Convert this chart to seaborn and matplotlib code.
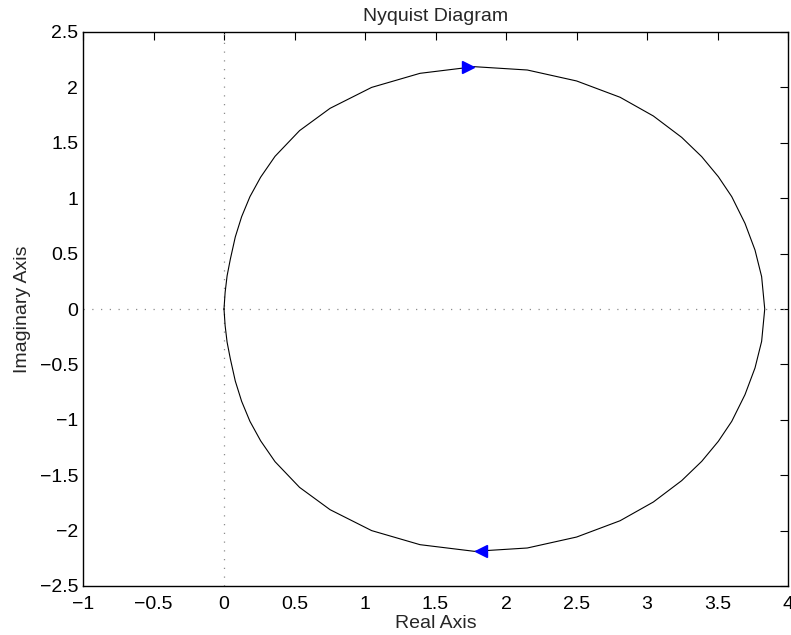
import matplotlib
matplotlib.use("Agg")
import matplotlib.pyplot as plt
import matplotlib.transforms as mtransforms
from matplotlib.ticker import FixedLocator, FuncFormatter
import pandas as pd
import seaborn as sns

# G(jw) for w >= 0: starts on the real axis (w = 0) and ends at the origin (w -> inf)
re_pos = [3.835, 3.813, 3.766, 3.695, 3.601, 3.506, 3.388, 3.246, 3.045, 2.809,
          2.501, 2.151, 1.775, 1.390, 1.047, 0.752, 0.536, 0.362, 0.260, 0.184,
          0.125, 0.080, 0.045, 0.022, 0.008, 0.000]
im_pos = [0.000, -0.292, -0.532, -0.773, -1.014, -1.194, -1.375, -1.549, -1.742, -1.911,
          -2.058, -2.157, -2.187, -2.127, -2.000, -1.811, -1.610, -1.378, -1.190, -1.014,
          -0.833, -0.650, -0.450, -0.300, -0.150, 0.000]
arrow_idx = 12

x_ticks = [-1, -0.5, 0, 0.5, 1, 1.5, 2, 2.5, 3, 3.5, 4]
y_ticks = [-2.5, -2, -1.5, -1, -0.5, 0, 0.5, 1, 1.5, 2, 2.5]

sns.set_theme(style="white")
plt.rcParams["font.family"] = ["Liberation Sans", "DejaVu Sans"]
plt.rcParams.update({
    "xtick.direction": "in", "ytick.direction": "in",
    "xtick.top": True, "ytick.right": True,
    "xtick.major.size": 6, "ytick.major.size": 6,
    "xtick.major.width": 0.8, "ytick.major.width": 0.8,
    "axes.linewidth": 1.0, "axes.edgecolor": "black",
})

fig = plt.figure(figsize=(7.91, 6.35), dpi=100)
ax = fig.add_axes([83 / 791, 1 - 586 / 635, (788 - 83) / 791, (586 - 32) / 635])

# full contour: w from -inf to 0 (mirror image), then 0 to +inf
re_all = re_pos[::-1] + re_pos
im_all = [-v for v in im_pos[::-1]] + im_pos
df = pd.DataFrame({"Real": re_all, "Imag": im_all})

ax.axhline(0, color="0.55", lw=0.9, ls=(0, (1, 6)), zorder=1)
ax.axvline(0, color="0.55", lw=0.9, ls=(0, (1, 6)), zorder=1)

sns.lineplot(data=df, x="Real", y="Imag", sort=False, estimator=None,
             color="black", lw=0.8, ax=ax, zorder=2)

# direction arrows, tips resting on the curve vertex
ms = 9
shift = ms / 2 / 72
tr_left = ax.transData + mtransforms.ScaledTranslation(-shift, 0, fig.dpi_scale_trans)
tr_right = ax.transData + mtransforms.ScaledTranslation(shift, 0, fig.dpi_scale_trans)
ax.plot([re_pos[arrow_idx]], [-im_pos[arrow_idx]], marker=">", ms=ms, color="blue",
        mec="blue", transform=tr_left, zorder=3)
ax.plot([re_pos[arrow_idx]], [im_pos[arrow_idx]], marker="<", ms=ms, color="blue",
        mec="blue", transform=tr_right, zorder=3)

ax.set_xlim(-1, 4)
ax.set_ylim(-2.5, 2.5)
ax.xaxis.set_major_locator(FixedLocator(x_ticks))
ax.yaxis.set_major_locator(FixedLocator(y_ticks))
fmt = FuncFormatter(lambda v, p: ("%g" % v).replace("-", "\u2212"))
ax.xaxis.set_major_formatter(fmt)
ax.yaxis.set_major_formatter(fmt)
ax.tick_params(labelsize=14, colors="black")
ax.tick_params(axis="x", pad=7.5)
ax.tick_params(axis="y", pad=3.5)

ax.set_title("Nyquist Diagram", fontsize=14, pad=8)
ax.set_xlabel("Real Axis", fontsize=14, labelpad=1)
ax.set_ylabel("Imaginary Axis", fontsize=14, labelpad=6)

for s in ax.spines.values():
    s.set_visible(True)

fig.savefig("out.png", dpi=100)
